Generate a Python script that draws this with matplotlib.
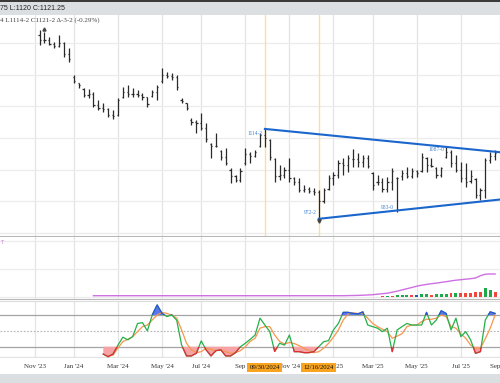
import pandas as pd
import matplotlib
matplotlib.use("Agg")
import matplotlib.pyplot as plt
import matplotlib.dates as mdates
from matplotlib.patches import Rectangle
from matplotlib.transforms import blended_transform_factory

# weekly OHLC bars (Mondays)
weeks = pd.date_range("2023-11-13", periods=94, freq="W-MON")

highs = [1270, 1267, 1259, 1252, 1262, 1252, 1242, 1199, 1187, 1179,
         1177, 1173, 1160, 1155, 1147, 1144, 1163, 1180, 1184, 1179,
         1176, 1171, 1165, 1176, 1184, 1210, 1204, 1203, 1199, 1163,
         1155, 1131, 1128, 1139, 1124, 1092, 1108, 1081, 1084, 1052,
         1041, 1052, 1084, 1078, 1081, 1108, 1114.25, 1098, 1068, 1057,
         1054, 1068, 1038, 1037, 1026, 1022, 1021, 1018, 1021, 1041,
         1046, 1065, 1068, 1073, 1082, 1076, 1073, 1073, 1046, 1041,
         1037, 1038, 1052, 1038, 1049, 1054, 1052, 1049, 1076, 1070,
         1068, 1054, 1054, 1087, 1081, 1073, 1062, 1060, 1049, 1037,
         1021, 1068, 1078, 1081]
lows = [1247, 1250, 1247, 1242, 1244, 1228, 1220, 1187, 1179, 1165,
        1163, 1149, 1144, 1141, 1133, 1130, 1135, 1163, 1165, 1165,
        1165, 1160, 1149, 1165, 1160, 1187, 1195, 1192, 1176, 1155,
        1144, 1120, 1108, 1112, 1094, 1068, 1085, 1065, 1057, 1029,
        1030, 1030, 1057, 1060, 1070, 1086, 1086, 1065, 1030, 1034,
        1036, 1030, 1026, 1015, 1014, 1013, 1010, 972.25, 997, 1018,
        1026, 1036, 1041, 1046, 1054, 1054, 1054, 1052, 1018, 1026,
        1015, 1015, 1018, 983, 1034, 1037, 1037, 1038, 1046, 1046,
        1054, 1037, 1038, 1068, 1054, 1046, 1030, 1022, 1029, 1005,
        1002, 1005, 1060, 1065]
opens = [1262, 1255, 1255, 1249, 1246, 1250, 1232, 1197, 1186, 1178,
         1168, 1170, 1152, 1148, 1145, 1137, 1136, 1165, 1172, 1170,
         1170, 1168, 1164, 1166, 1172, 1190, 1200, 1198, 1196, 1160,
         1155, 1128, 1125, 1124, 1116, 1090, 1088, 1080, 1070, 1050,
         1040, 1034, 1060, 1075, 1072, 1088, 1104, 1096, 1066, 1040,
         1042, 1050, 1036, 1030, 1018, 1020, 1016, 1014, 1000, 1020,
         1036, 1042, 1060, 1058, 1066, 1066, 1062, 1068, 1044, 1030,
         1030, 1020, 1030, 1036, 1040, 1045, 1040, 1048, 1048, 1068,
         1058, 1052, 1042, 1070, 1078, 1060, 1050, 1036, 1032, 1035,
         1010, 1018, 1065, 1072]
closes = [1255, 1255, 1249, 1246, 1250, 1232, 1224, 1190, 1183, 1168,
          1170, 1152, 1148, 1145, 1137, 1134, 1160, 1172, 1170, 1170,
          1168, 1164, 1154, 1172, 1180, 1200, 1198, 1196, 1180, 1158,
          1148, 1125, 1124, 1116, 1098, 1088, 1088, 1070, 1060, 1040,
          1034, 1048, 1075, 1072, 1078, 1104, 1100, 1070, 1040, 1042,
          1050, 1036, 1030, 1018, 1020, 1016, 1014, 1000, 1018, 1036,
          1042, 1060, 1058, 1068, 1066, 1062, 1068, 1055, 1025, 1030,
          1020, 1030, 1048, 1036, 1045, 1040, 1048, 1045, 1070, 1058,
          1056, 1042, 1052, 1078, 1060, 1050, 1036, 1030, 1040, 1010,
          1018, 1065, 1072, 1076]

# triangle trendlines
upper_dates = ["2024-09-30", "2025-09-05"]
upper_vals = [1114.25, 1077.0]
lower_dates = ["2024-12-16", "2025-09-05"]
lower_vals = [972.25, 1003.2]

# labelled pivots: (bar index, text, is_high)
pivots = [(46, "1114-2", True), (57, "972-2", False), (73, "983-0", False), (83, "1087-0", True)]
marked_dates = ["2024-09-30", "2024-12-16"]
marked_labels = ["09/30/2024", "12/16/2024"]

# volume histogram and purple study (second panel)
vol_start = 70
volume = [0.5, 1, 1, 1.5, 1.5, 1.5, 2, 2, 2.5, 2.5, 2, 2.5,
          3, 3, 3.5, 4, 3.5, 3.5, 4, 5, 5, 9, 7, 5]
vol_dir = ["down", "up", "down", "up", "up", "up", "down", "flat", "up", "up", "down", "up",
           "up", "up", "down", "up", "down", "down", "down", "down", "down", "up", "up", "down"]
oi_start = 11
oi = [1.0, 1.0, 1.0, 1.0, 1.0, 1.0, 1.0, 1.0, 1.0, 1.0,
      1.0, 1.0, 1.0, 1.0, 1.0, 1.0, 1.0, 1.0, 1.0, 1.0,
      1.0, 1.0, 1.0, 1.0, 1.0, 1.0, 1.0, 1.0, 1.0, 1.0,
      1.0, 1.0, 1.0, 1.0, 1.0, 1.0, 1.0, 1.0, 1.0, 1.0,
      1.0, 1.0, 1.0, 1.0, 1.0, 1.0, 1.0, 1.0, 1.0, 1.0,
      1.0, 1.0,
      1.1, 1.2, 1.3, 1.5, 1.7, 2.0, 2.5, 3.0, 3.5, 4.5,
      5.5, 6.8, 8.0, 9.2, 10.5, 11.5, 12.3, 13.0, 13.6, 14.3,
      15.0, 15.8, 16.5, 17.0, 17.5, 18.0, 18.7, 21.0, 22.5, 22.7, 22.7]

# stochastic %K / %D
k_start = 13
stoch_k = [6, 1, 6, 23, 38, 33, 39, 64, 65.5, 50,
           80, 99, 83, 77, 80, 70, 23, 2.5, 2.5, 7.5,
           31, 14, 2.5, 12.5, 14, 2.5, 2.5, 8.7, 20, 26.5,
           34, 42, 74, 61, 48.5, 11, 26.5, 23, 42, 10.6,
           10.6, 8.7, 8.7, 10.6, 20, 29.5, 31.5, 51.7, 64, 85,
           85, 83, 82, 86, 61, 58, 55, 48.5, 55, 10.6,
           51.7, 58, 64, 61, 61, 61, 85, 61, 70.6, 88,
           83, 51.7, 74, 39, 48.5, 33, 7.5, 10.6, 70.6, 86,
           83]
d_start = 14
stoch_d = [3, 4, 17.6, 29.5, 34, 39, 48.5, 58, 61, 70.6,
           80, 85, 83, 80, 74, 51.7, 26.5, 14, 8.7, 10.6,
           17, 15, 12.5, 14, 10.6, 7.5, 8.7, 12.5, 20, 30,
           36, 55, 58, 58, 42, 30, 25, 28, 26, 22,
           17, 12.5, 8.7, 10.6, 17, 26.5, 38, 51.7, 70.6, 82,
           84, 83, 83, 74, 64, 58, 53, 48.5, 36, 40,
           44.5, 58, 61, 61, 67.5, 72, 72, 74, 80, 77,
           58, 55, 44.5, 36, 23, 17, 17, 35, 55, 80]

tick_dates = ["2023-11-06", "2024-01-01", "2024-03-04", "2024-05-06", "2024-07-01", "2024-09-02",
              "2024-11-04", "2025-01-06", "2025-03-03", "2025-05-05", "2025-07-07", "2025-09-01"]
tick_labels = ["Nov '23", "Jan '24", "Mar '24", "May '24", "Jul '24", "Sep '24",
               "Nov '24", "Jan '25", "Mar '25", "May '25", "Jul '25", "Sep '25"]

SERIF = "Liberation Serif"
SANS = "Liberation Sans"
H = 383.0

fig = plt.figure(figsize=(5, 3.83), dpi=100)


def rows(top, bottom):
    return [0, 1 - bottom / H, 1, (bottom - top) / H]


ax1 = fig.add_axes(rows(15, 236))
ax2 = fig.add_axes(rows(237, 299), sharex=ax1)
ax3 = fig.add_axes(rows(301, 358), sharex=ax1)

x = mdates.date2num(weeks)
ticks = mdates.date2num(pd.to_datetime(tick_dates))
xmin = ticks[0] - 35 / 0.706
xmax = xmin + 500 / 0.706

for ax in (ax1, ax2, ax3):
    ax.set_xlim(xmin, xmax)
    ax.set_xticks(ticks)
    ax.grid(axis="x", color="#e4e4e4", lw=0.9)
    ax.set_axisbelow(True)
    for s in ax.spines.values():
        s.set_visible(False)
    ax.tick_params(length=0, labelleft=False, labelbottom=False)

# --- price panel
ax1.set_ylim(945.1, 1294.2)
ax1.set_yticks(range(950, 1251, 50))
ax1.grid(axis="y", color="#ececec", lw=0.9)
ax1.spines["bottom"].set_visible(True)
ax1.spines["bottom"].set_color("#b8b8b8")
for d in marked_dates:
    ax1.axvline(mdates.date2num(pd.Timestamp(d)), color="#fddca6", lw=1.0, zorder=1)

ax1.vlines(x, lows, highs, color="#2a2a2a", lw=0.9, zorder=3)
ax1.hlines(opens, x - 1.7, x, color="#2a2a2a", lw=0.9, zorder=3)
ax1.hlines(closes, x, x + 1.7, color="#2a2a2a", lw=0.9, zorder=3)
ax1.plot(x[1], highs[1] + 5, marker="^", ms=2.2, color="#444444")
ax1.plot(x[57], lows[57] - 4, marker="v", ms=2.4, color="#444444", zorder=5)

ax1.plot(mdates.date2num(pd.to_datetime(upper_dates)), upper_vals, color="#1a66cc", lw=1.5, zorder=4)
ax1.plot(mdates.date2num(pd.to_datetime(lower_dates)), lower_vals, color="#1a66cc", lw=1.5, zorder=4)
offsets = {"1114-2": (-1.5, -3.6), "972-2": (-1.5, 4.3), "983-0": (-2, 3.6), "1087-0": (-1.5, -2.7)}
for i, txt, is_high in pivots:
    yv = highs[i] if is_high else lows[i]
    ax1.annotate(txt, xy=(x[i], yv), xytext=offsets[txt], textcoords="offset points",
                 ha="right", va="center", fontsize=4, color="#3f82d6", family=SERIF)

# --- volume / purple study panel
ax2.set_ylim(-2.3, 59.7)
ax2.set_yticks([0, 28, 56])
ax2.grid(axis="y", color="#ececec", lw=0.9)
ax2.spines["bottom"].set_visible(True)
ax2.spines["bottom"].set_color("#b8b8b8")
dir_colors = {"up": "#1faa4a", "down": "#f0463c", "flat": "#2a55c8"}
ax2.bar(x[vol_start:], volume, width=4.2, color=[dir_colors[d] for d in vol_dir], lw=0, zorder=3)
ax2.plot(x[oi_start:], oi, color="#cf70e2", lw=1.0, zorder=4)

# --- stochastic panel
ax3.set_ylim(-1.4, 106.5)
ax3.spines["top"].set_visible(True)
ax3.spines["top"].set_color("#dcdcdc")
ax3.axhline(80, color="#a4a4a4", lw=0.9)
ax3.axhline(20, color="#a4a4a4", lw=0.9)
ax3.axhline(50, color="#b4b4b4", lw=0.8, ls=(0, (1.5, 1.5)))
ax3.axhline(0, color="#e2e2e2", lw=0.9)
kx = x[k_start:]
ax3.fill_between(kx, stoch_k, 20, where=[v < 20 for v in stoch_k], interpolate=True,
                 color="#f7a3a6", lw=0, zorder=2)
ax3.fill_between(kx, stoch_k, 80, where=[v > 80 for v in stoch_k], interpolate=True,
                 color="#5c78ee", lw=0, zorder=2)
ax3.plot(x[d_start:], stoch_d, color="#f7964e", lw=0.9, zorder=3)
ax3.plot(kx, stoch_k, color="#25b04a", lw=0.9, zorder=4)
low_part = ax3.plot(kx, stoch_k, color="#ea2a3a", lw=0.9, zorder=5)[0]
low_part.set_clip_path(Rectangle((xmin, -50), xmax - xmin, 70, transform=ax3.transData))
high_part = ax3.plot(kx, stoch_k, color="#3050e0", lw=0.9, zorder=5)[0]
high_part.set_clip_path(Rectangle((xmin, 80), xmax - xmin, 60, transform=ax3.transData))

ax3.tick_params(labelbottom=True, pad=4.5, labelsize=5, labelcolor="#333333")
ax3.set_xticklabels(tick_labels, family=SERIF)

# date badges sit over the axis labels, as on the original
tr = blended_transform_factory(ax3.transData, fig.transFigure)
for d, lab in zip(marked_dates, marked_labels):
    fig.text(mdates.date2num(pd.Timestamp(d)), 1 - 367.5 / H, lab, transform=tr,
             ha="center", va="center", fontsize=4.8, family=SERIF, color="#111111",
             bbox=dict(boxstyle="square,pad=0.35", fc="#f8a41f", ec="none"), zorder=10)

# header and footer bars
fig.patches.append(Rectangle((0, 1 - 15 / H), 1, 15 / H, transform=fig.transFigure,
                             fc="#dcdfe2", ec="none", zorder=0))
fig.patches.append(Rectangle((0, 1 - 2 / H), 1, 2 / H, transform=fig.transFigure,
                             fc="#3a3a3a", ec="none", zorder=1))
fig.patches.append(Rectangle((0, 0), 1, 9 / H, transform=fig.transFigure,
                             fc="#dcdfe2", ec="none", zorder=0))
fig.text(0.001, 1 - 8 / H, "75 L:1120 C:1121.25", fontsize=5, family=SANS,
         color="#222222", va="center")
fig.text(0.001, 1 - 20.5 / H, "4 L1114-2 C1121-2 \u0394-3-2 (-0.29%)", fontsize=5,
         family=SERIF, color="#444444", va="center")
fig.text(0.001, 1 - 243 / H, "T", fontsize=4, family=SANS, color="#d27be0", va="center")

fig.savefig("out.png", dpi=100)
